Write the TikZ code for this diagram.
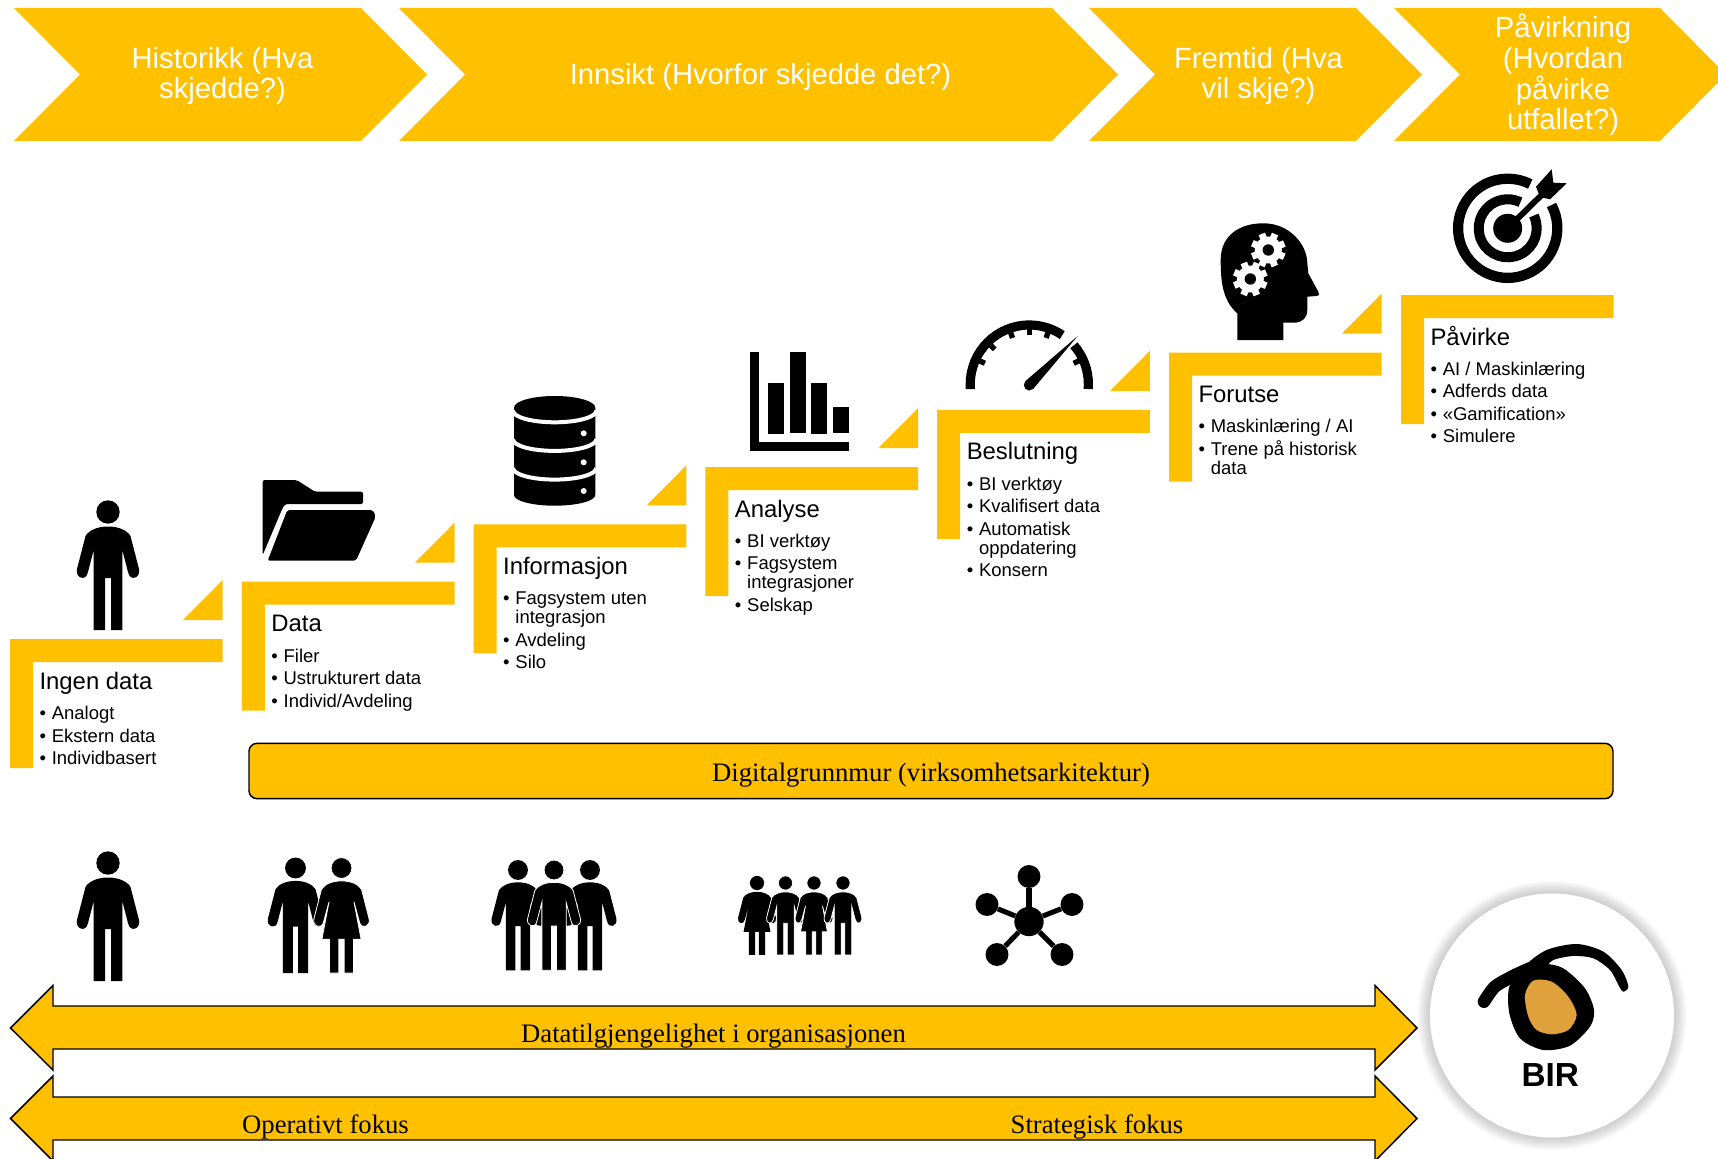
\documentclass[tikz,border=0pt]{standalone}
\usepackage{fontspec}
\setmainfont{Liberation Sans}
\newfontfamily\serifskrift{Liberation Serif}
\definecolor{gul}{HTML}{FFC000}
\definecolor{oye}{HTML}{E0A03C}
\newcommand{\blt}{\makebox[9.2pt][l]{•}\rule{0pt}{10pt}}
\newcommand{\inn}{\hspace*{9.2pt}}
\tikzset{%
	chevtxt/.style={text=white,align=center,inner sep=0,font=\fontsize{21.9}{23}\selectfont},
	tittel/.style={anchor=base west,inner sep=0,font=\fontsize{17.9}{20}\selectfont},
	liste/.style={anchor=north west,inner sep=0,align=left,font=\fontsize{13.85}{14.25}\selectfont},
	pil/.style={fill=gul,draw=black,line width=1.1},
	piltxt/.style={anchor=base,inner sep=0,font=\serifskrift\fontsize{20}{22}\selectfont},
	nav/.style={circle,fill=black,inner sep=0,minimum size=22pt},
	satellitt/.style={circle,fill=black,inner sep=0,minimum size=17.2pt},
	pics/steg/.style={code={
		\fill[gul] (0,0) -- ++(212.7,0) -- ++(0,23) -- ++(-189.7,0) -- ++(0,106) -- ++(-23,0) -- cycle;
	}},
	pics/kile/.style={code={
		\fill[gul] (173,-19) -- (212.7,-19) -- (212.7,-59) -- cycle;
	}},
	pics/mann/.style={code={
		\path[fill=black,draw=#1,line width=0.6] (0,0) circle[radius=11.7];
		\path[fill=black,draw=#1,line width=0.6] (0,14.5) .. controls (-10,14.5) and (-19,18) .. (-22.5,24) -- (-31,57) .. controls (-33,66) and (-22,70) .. (-20,60) -- (-14.3,38) -- (-14.3,118) -- (-3,118) -- (-3,66) -- (3,66) -- (3,118) -- (14.3,118) -- (14.3,38) -- (20,60) .. controls (22,70) and (33,66) .. (31,57) -- (22.5,24) .. controls (19,18) and (10,14.5) .. (0,14.5) -- cycle;
	}},
	pics/mann/.default=none,
	pics/kvinne/.style={code={
		\path[fill=black,draw=#1,line width=0.6] (0,0) circle[radius=11.7];
		\path[fill=black,draw=#1,line width=0.6] (0,14.5) .. controls (-10,14.5) and (-19,18) .. (-22.5,24) -- (-31,57) .. controls (-33,66) and (-22,70) .. (-20,60) -- (-14,38) -- (-22,80) -- (-13.5,80) -- (-13.5,118) -- (-3,118) -- (-3,80) -- (3,80) -- (3,118) -- (13.5,118) -- (13.5,80) -- (22,80) -- (14,38) -- (20,60) .. controls (22,70) and (33,66) .. (31,57) -- (22.5,24) .. controls (19,18) and (10,14.5) .. (0,14.5) -- cycle;
	}},
	pics/kvinne/.default=none,
	pics/tannhjul/.style={code={
		\fill[white] (0,0) circle[radius=13.5];
		\foreach \a in {0,45,...,315} \fill[white,rotate=\a+22] (-3.4,11) rectangle (3.4,17.3);
		\fill[black] (0,0) circle[radius=5.7];
	}},
}
\begin{document}
\begin{tikzpicture}[x=0.75pt,y=-0.75pt]
	\clip (0,0) rectangle (1718,1159);
	
	% piler overst
	\fill[gul] (14,8) -- (361,8) -- (427,74.5) -- (361,141) -- (14,141) -- (80,74.5) -- cycle;
	\fill[gul] (399,8) -- (1052,8) -- (1118,74.5) -- (1052,141) -- (399,141) -- (465,74.5) -- cycle;
	\fill[gul] (1089,8) -- (1356,8) -- (1422,74.5) -- (1356,141) -- (1089,141) -- (1155,74.5) -- cycle;
	\fill[gul] (1394,8) -- (1660,8) -- (1726,74.5) -- (1660,141) -- (1394,141) -- (1460,74.5) -- cycle;
	\node (hist) at (222.5,76) [chevtxt] {Historikk (Hva\\skjedde?)};
	\node (inns) at (760.5,76.5) [chevtxt] {Innsikt (Hvorfor skjedde det?)};
	\node (frem) at (1258.5,76) [chevtxt] {Fremtid (Hva\\vil skje?)};
	\node (pav) at (1563,75) [chevtxt] {Påvirkning\\(Hvordan\\påvirke\\utfallet?)};
	
	% trapp
	\pic at (10,639) {steg};
	\pic at (241.8,581.7) {steg};
	\pic at (473.6,524.4) {steg};
	\pic at (705.4,467.1) {steg};
	\pic at (937.2,409.8) {steg};
	\pic at (1169,352.5) {steg};
	\pic at (1401,295) {steg};
	\pic at (10,639) {kile};
	\pic at (241.8,581.7) {kile};
	\pic at (473.6,524.4) {kile};
	\pic at (705.4,467.1) {kile};
	\pic at (937.2,409.8) {kile};
	\pic at (1169,352.5) {kile};
	
	\node (t0) at (39.3,689) [tittel] {Ingen data};
	\node (t1) at (271.1,631.7) [tittel] {Data};
	\node (t2) at (502.9,574.4) [tittel] {Informasjon};
	\node (t3) at (734.7,517.1) [tittel] {Analyse};
	\node (t4) at (966.5,459.8) [tittel] {Beslutning};
	\node (t5) at (1198.3,402.5) [tittel] {Forutse};
	\node (t6) at (1430.3,345.2) [tittel] {Påvirke};
	
	\node (l0) at (39.3,706.2) [liste] {\blt Analogt\\[2.6pt]\blt Ekstern data\\[2.6pt]\blt Individbasert};
	\node (l1) at (271.1,648.6) [liste] {\blt Filer\\[2.6pt]\blt Ustrukturert data\\[2.6pt]\blt Individ/Avdeling};
	\node (l2) at (502.9,591.1) [liste] {\blt Fagsystem uten\\\inn integrasjon\\[2.6pt]\blt Avdeling\\[2.6pt]\blt Silo};
	\node (l3) at (734.7,533.8) [liste] {\blt BI verktøy\\[2.6pt]\blt Fagsystem\\\inn integrasjoner\\[2.6pt]\blt Selskap};
	\node (l4) at (966.5,476.5) [liste] {\blt BI verktøy\\[2.6pt]\blt Kvalifisert data\\[2.6pt]\blt Automatisk\\\inn oppdatering\\[2.6pt]\blt Konsern};
	\node (l5) at (1198.3,419.2) [liste] {\blt Maskinlæring / AI\\[2.6pt]\blt Trene på historisk\\\inn data};
	\node (l6) at (1430.3,361.7) [liste] {\blt AI / Maskinlæring\\[2.6pt]\blt Adferds data\\[2.6pt]\blt «Gamification»\\[2.6pt]\blt Simulere};
	
	% ikoner i trappen
	\pic at (108,512) {mann};
	\fill[black,rounded corners=1.5] (262.7,480) -- (296.7,480) -- (315,491.7) -- (363,491.7) -- (363,504) -- (285,504) -- (281.7,510) -- (262.7,555) -- cycle;
	\fill[black,rounded corners=1.5] (287.3,510) -- (373,510) -- (375.7,516.7) -- (356,560.7) -- (267.7,560.7) -- cycle;
	
	\fill[black] (514,407.7) -- (514,495) arc[start angle=180,end angle=0,x radius=40.65,y radius=10.7] -- (595.3,407.7) arc[start angle=0,end angle=-180,x radius=40.65,y radius=11.7] -- cycle;
	\draw[white,line width=3] (513,410.7) arc[start angle=180,end angle=0,x radius=41.65,y radius=11.6];
	\draw[white,line width=3] (513,439.3) arc[start angle=180,end angle=0,x radius=41.65,y radius=11.6];
	\draw[white,line width=3] (513,468) arc[start angle=180,end angle=0,x radius=41.65,y radius=11.6];
	\fill[white] (583.7,433.3) circle[radius=3];
	\fill[white] (583.7,462.3) circle[radius=3];
	\fill[white] (583.7,491) circle[radius=3];
	
	\fill[black] (750,352.3) rectangle (759.3,450.7);
	\fill[black] (750,442) rectangle (849,450.7);
	\fill[black] (768,383) rectangle (784,434);
	\fill[black] (790,352) rectangle (806,433);
	\fill[black] (811,383) rectangle (827,434);
	\fill[black] (833,407) rectangle (849,433);
	
	\draw[line width=6.9] (970.3,389) -- (970.3,384) arc[start angle=180,end angle=304,radius=59];
	\draw[line width=6.9] (1073.9,345.3) arc[start angle=319,end angle=360,radius=59] -- (1088.3,389);
	\foreach \a in {205,225,250,270,290,335} \draw[shift={(1029.3,384)},line width=4] (\a:49) -- (\a:56);
	\fill[black] (1029.3,385) circle[radius=5.5];
	\fill[black] (1033.2,388.9) -- (1077.7,336) -- (1025.4,381.1) -- cycle;
	
	\fill[black] (1237.3,340) -- (1237.3,313.3) .. controls (1222,300) and (1220.7,280) .. (1220.7,260) .. controls (1220.7,235) and (1240,223.3) .. (1263.3,223.3) .. controls (1290,223.3) and (1307.3,245) .. (1307.3,263.3) -- (1308.3,273.3) -- (1318.3,291.7) .. controls (1320,296) and (1318,296) .. (1316,296) -- (1307.3,296.7) -- (1307.3,310) .. controls (1307.3,318) and (1302,322) .. (1296,322.7) -- (1283.3,322.7) -- (1283.3,340) -- cycle;
	\pic at (1268.3,250) {tannhjul};
	\pic at (1250.3,279) {tannhjul};
	
	\draw[line width=7.7] (1507.7,228.3) ++(332:49.6) arc[start angle=332,end angle=657,radius=49.6];
	\draw[line width=7.5] (1507.7,228.3) ++(334:29) arc[start angle=334,end angle=656,radius=29];
	\fill[black] (1507.7,228.3) circle[radius=14.5];
	\draw[line width=4.5] (1507.7,228.3) -- (1543.3,193.3);
	\fill[black] (1536,186.7) -- (1551.7,169.3) -- (1553.3,182.7) -- (1566.7,183.3) -- (1550,199.3) -- (1540,197) -- cycle;
	
	% grunnmur
	\node (grunn) at (931,771) [fill=gul,draw=black,line width=1.1,rounded corners=6,minimum width=1023pt,minimum height=41.5pt,inner sep=0,font=\serifskrift\fontsize{20}{22}\selectfont] {\smash{\raisebox{-8pt}{Digitalgrunnmur (virksomhetsarkitektur)}}};
	
	% personer
	\pic at (108,863) {mann};
	\pic[scale=0.89] at (295.5,868) {mann};
	\pic[scale=0.89] at (341.5,868) {kvinne=white};
	\pic[scale=0.85] at (518,870) {mann};
	\pic[scale=0.85] at (590,870) {mann};
	\pic[scale=0.85] at (554,870) {mann=white};
	\pic[scale=0.61] at (757,883) {kvinne};
	\pic[scale=0.61] at (785.5,883) {mann=white};
	\pic[scale=0.61] at (814,883) {kvinne=white};
	\pic[scale=0.61] at (843,883) {mann=white};
	
	% nettverk
	\node (sat1) at (1029,876.5) [satellitt] {};
	\node (sat2) at (987,904.5) [satellitt] {};
	\node (sat3) at (1072,904.5) [satellitt] {};
	\node (sat4) at (997,954.5) [satellitt] {};
	\node (sat5) at (1062,954.5) [satellitt] {};
	\node (hub) at (1029,921.5) [nav] {};
	\draw[line width=3.8] (hub) -- (sat1);
	\draw[line width=3.8] (hub) -- (sat2);
	\draw[line width=3.8] (hub) -- (sat3);
	\draw[line width=3.8] (hub) -- (sat4);
	\draw[line width=3.8] (hub) -- (sat5);
	
	% piler nederst
	\path[pil] (10.5,1028) -- (53,985.5) -- (53,1006) -- (1375,1006) -- (1375,985.5) -- (1417,1028) -- (1375,1070) -- (1375,1049) -- (53,1049) -- (53,1070) -- cycle;
	\path[pil] (10.5,1118.5) -- (53,1076) -- (53,1097) -- (1375,1097) -- (1375,1076) -- (1417,1118.5) -- (1375,1161) -- (1375,1140) -- (53,1140) -- (53,1161) -- cycle;
	\node (tilgj) at (713.5,1042.7) [piltxt] {Datatilgjengelighet i organisasjonen};
	\node (oper) at (325.5,1133.7) [piltxt] {Operativt fokus};
	\node (strat) at (1097,1133.7) [piltxt] {Strategisk fokus};
	
	% logo
	\foreach \r in {122,123,...,135} \fill[black,opacity=0.016] (1552,1015.5) circle[radius=\r];
	\fill[white] (1552,1015.5) circle[radius=122];
	\begin{scope}[shift={(1380,870)},scale=0.3333]
		\fill[black] plot[smooth cycle] coordinates {(388,350) (388,430) (420,505) (490,540) (570,527) (630,470) (642,420) (615,355) (550,295) (490,282) (430,300)};
		\fill[oye] plot[smooth cycle] coordinates {(435,375) (460,332) (515,335) (565,380) (590,435) (565,480) (515,493) (470,480) (445,440)};
		\draw[line width=9.5,line cap=round] plot[smooth] coordinates {(312,395) (345,350) (400,318) (450,295)};
		\fill[black] plot[smooth cycle] coordinates {(440,285) (500,240) (590,222) (670,245) (725,300) (745,350) (730,365) (718,350) (690,300) (640,265) (580,258) (520,270) (490,295)};
		\node (bir) at (511,614) [inner sep=0,font=\bfseries\fontsize{25}{25}\selectfont] {BIR};
	\end{scope}
\end{tikzpicture}
\end{document}
